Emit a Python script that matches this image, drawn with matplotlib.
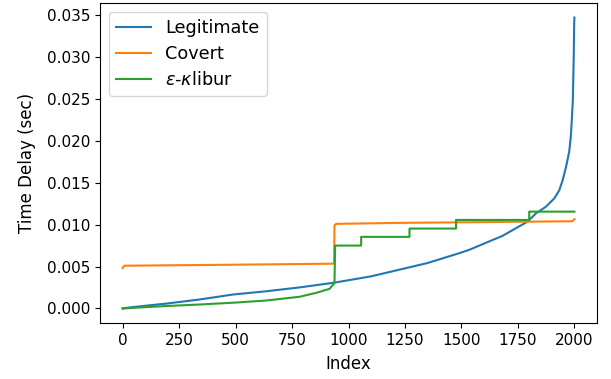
import matplotlib
matplotlib.use("Agg")
import matplotlib.pyplot as plt

plt.rcParams["font.size"] = 12

# Sorted per-packet time delays (seconds) over 2000 packets
legit_idx = [0, 44, 200, 341, 488, 636, 780, 931, 1100, 1226, 1350, 1491,
             1535, 1623, 1682, 1741, 1793, 1830, 1874, 1911, 1933, 1948,
             1963, 1977, 1985, 1993, 1997, 1999, 2000]
legit_val = [0.0, 0.00016, 0.0006, 0.00107, 0.00166, 0.00205, 0.0025, 0.00305,
             0.00383, 0.00463, 0.00542, 0.0066, 0.0070, 0.0080, 0.00866,
             0.00957, 0.01036, 0.01135, 0.01214, 0.01313, 0.0141, 0.0153,
             0.0169, 0.0187, 0.0208, 0.0248, 0.0300, 0.0340, 0.0347]

covert_idx = [0, 8, 100, 500, 931, 936, 938, 945, 1200, 1600, 1990, 2000]
covert_val = [0.00483, 0.0051, 0.00512, 0.00522, 0.00534, 0.0054, 0.0099,
              0.01009, 0.0102, 0.01030, 0.0104, 0.01064]

klibur_idx = [0, 200, 341, 500, 636, 783, 857, 916, 935, 938, 941, 1056,
              1056, 1270, 1270, 1476, 1476, 1800, 1800, 2000]
klibur_val = [0.0, 0.0003, 0.00047, 0.0007, 0.00095, 0.00139, 0.00186,
              0.00234, 0.00293, 0.0031, 0.0075, 0.0075, 0.00854, 0.00854,
              0.00953, 0.00953, 0.01056, 0.01056, 0.01155, 0.01155]

fig = plt.figure(figsize=(6.11, 3.79), dpi=100)
ax = fig.add_axes([100 / 611, 56 / 379, 497 / 611, 320 / 379])

ax.plot(legit_idx, legit_val, color="#1f77b4", lw=1.5, label="Legitimate")
ax.plot(covert_idx, covert_val, color="#ff7f0e", lw=1.5, label="Covert")
ax.plot(klibur_idx, klibur_val, color="#2ca02c", lw=1.5,
        label=r"$\varepsilon$-$\kappa$libur")

ax.set_xlabel("Index", fontsize=12, labelpad=5)
ax.set_ylabel("Time Delay (sec)", fontsize=12, labelpad=8)
ax.set_xticks([0, 250, 500, 750, 1000, 1250, 1500, 1750, 2000])
ax.set_yticks([0.0, 0.005, 0.010, 0.015, 0.020, 0.025, 0.030, 0.035])
ax.yaxis.set_major_formatter(matplotlib.ticker.FormatStrFormatter("%.3f"))
ax.tick_params(labelsize=11)
ax.legend(loc="upper left", fontsize=12.7, labelspacing=0.45)

fig.savefig("out.png", dpi=100)
